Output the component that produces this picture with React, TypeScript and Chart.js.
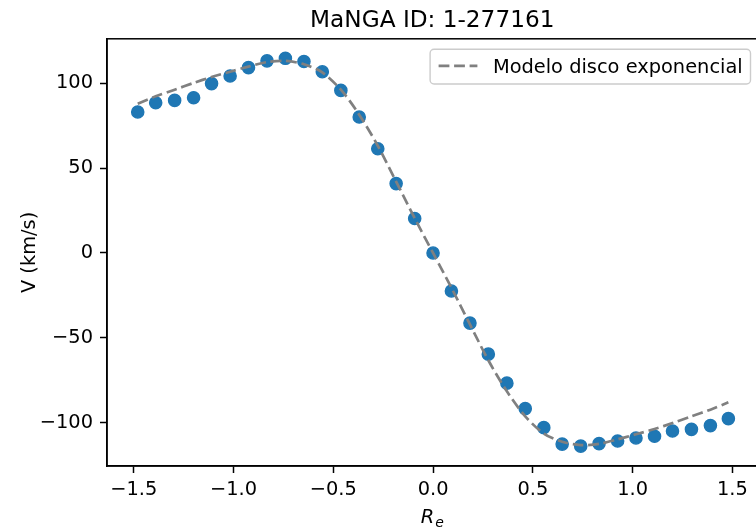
import React, { useEffect, useRef } from "react";
import { Chart, registerables } from "chart.js";

Chart.register(...registerables);

const TITLE = "MaNGA ID: 1-277161";
const MODEL_LABEL = "Modelo disco exponencial";
const Y_LABEL = "V (km/s)";

// radius in units of R_e
const radius: number[] = [
  -1.48, -1.39, -1.295, -1.2, -1.11, -1.017, -0.925, -0.832, -0.74, -0.647, -0.555,
  -0.462, -0.37, -0.277, -0.185, -0.092, 0, 0.092, 0.185, 0.277, 0.37, 0.462, 0.555,
  0.647, 0.74, 0.832, 0.925, 1.017, 1.11, 1.2, 1.295, 1.39, 1.48,
];

// observed velocities (km/s)
const velocity: number[] = [
  83.1, 88.5, 89.9, 91.5, 99.8, 104.3, 109.2, 113.2, 114.7, 112.8, 106.8, 95.8, 80.1,
  61.4, 40.9, 20.3, 0, -22.4, -41.3, -59.6, -76.7, -91.7, -102.9, -112.6, -113.8,
  -112.3, -110.8, -109, -108, -104.9, -103.9, -101.7, -97.6,
];

// exponential disc model (km/s)
const model: number[] = [
  88, 92.3, 96.2, 100.2, 103.7, 106.8, 109.8, 112.5, 113.2, 111.2, 106.4, 96.2, 81.5,
  63.2, 42.1, 20.5, 0, -20.5, -42.1, -63.2, -81.5, -96.2, -106.4, -111.2, -113.2,
  -112.5, -109.8, -106.8, -103.7, -100.2, -96.2, -92.3, -88,
];

const xTicks: number[] = [-1.5, -1.0, -0.5, 0.0, 0.5, 1.0, 1.5];
const yTicks: number[] = [-100, -50, 0, 50, 100];

const FONT = "'DejaVu Sans', 'Liberation Sans', sans-serif";
const FS = 19.4;
const minus = (s: string) => s.replace("-", "\u2212");

const decorPlugin = {
  id: "decor",
  afterDraw(chart: any) {
    const { ctx, chartArea } = chart;
    const { left, right, top, bottom } = chartArea;
    ctx.save();
    // frame (top & right spines)
    ctx.strokeStyle = "#000";
    ctx.lineWidth = 1.5;
    ctx.setLineDash([]);
    ctx.strokeRect(left, top, right - left, bottom - top);

    // title
    ctx.fillStyle = "#000";
    ctx.font = `23.2px ${FONT}`;
    ctx.textAlign = "center";
    ctx.textBaseline = "alphabetic";
    ctx.fillText(TITLE, (left + right) / 2, top - 11.5);

    // x label R_e
    ctx.font = `italic ${FS}px ${FONT}`;
    ctx.textAlign = "left";
    const rW = ctx.measureText("R").width;
    ctx.font = `italic 14px ${FONT}`;
    const eW = ctx.measureText("e").width;
    const cx = (left + right) / 2;
    const sx = cx - (rW + eW + 1) / 2;
    ctx.font = `italic ${FS}px ${FONT}`;
    ctx.fillText("R", sx, 522.5);
    ctx.font = `italic 14px ${FONT}`;
    ctx.fillText("e", sx + rW + 1, 526.5);

    // y label
    ctx.save();
    ctx.translate(35, (top + bottom) / 2);
    ctx.rotate(-Math.PI / 2);
    ctx.font = `${FS}px ${FONT}`;
    ctx.textAlign = "center";
    ctx.textBaseline = "alphabetic";
    ctx.fillText(Y_LABEL, 0, 0);
    ctx.restore();

    // legend
    ctx.font = `${FS}px ${FONT}`;
    const tw = ctx.measureText(MODEL_LABEL).width;
    const boxRight = right - 7;
    const boxTop = top + 10.5;
    const boxH = 34.7;
    const textRight = boxRight - 7.8;
    const textLeft = textRight - tw;
    const hEnd = textLeft - 15.5;
    const hStart = hEnd - 38.8;
    const boxLeft = hStart - 8.5;
    ctx.beginPath();
    (ctx as any).roundRect(boxLeft, boxTop, boxRight - boxLeft, boxH, 3.9);
    ctx.fillStyle = "rgba(255,255,255,0.8)";
    ctx.fill();
    ctx.strokeStyle = "#cccccc";
    ctx.lineWidth = 1.4;
    ctx.stroke();
    const my = boxTop + boxH / 2 - 0.8;
    ctx.beginPath();
    ctx.strokeStyle = "#808080";
    ctx.lineWidth = 2.6;
    ctx.setLineDash([10.8, 4.7]);
    ctx.moveTo(hStart, my);
    ctx.lineTo(hEnd, my);
    ctx.stroke();
    ctx.setLineDash([]);
    ctx.fillStyle = "#000";
    ctx.textAlign = "left";
    ctx.textBaseline = "alphabetic";
    ctx.fillText(MODEL_LABEL, textLeft, boxTop + 23.2);
    ctx.restore();
  },
};

export default function App() {
  const ref = useRef<HTMLCanvasElement | null>(null);
  useEffect(() => {
    if (!ref.current) return;
    const chart = new Chart(ref.current, {
      type: "scatter",
      data: {
        datasets: [
          {
            type: "line",
            label: MODEL_LABEL,
            data: radius.map((r, i) => ({ x: r, y: model[i] })),
            borderColor: "#808080",
            borderWidth: 2.7,
            borderDash: [10.8, 4.7],
            pointRadius: 0,
            tension: 0.3,
            fill: false,
            order: 1,
          } as any,
          {
            type: "scatter",
            label: "Datos",
            data: radius.map((r, i) => ({ x: r, y: velocity[i] })),
            backgroundColor: "#1f77b4",
            borderColor: "#1f77b4",
            borderWidth: 1.4,
            pointRadius: 6.1,
            order: 2,
          },
        ],
      },
      options: {
        responsive: false,
        animation: false,
        layout: { padding: { top: 38.8, right: 2, left: 0, bottom: 0 } },
        plugins: {
          legend: { display: false },
          title: { display: false },
          tooltip: { enabled: false },
        },
        scales: {
          x: {
            type: "linear",
            min: -1.634,
            max: 1.626,
            afterBuildTicks: (axis: any) => {
              axis.ticks = xTicks.map((v) => ({ value: v }));
            },
            afterFit: (scale: any) => {
              scale.height = 63;
              scale.paddingLeft = 0;
              scale.paddingRight = 0;
            },
            grid: {
              drawOnChartArea: false,
              drawTicks: true,
              tickLength: 7,
              tickColor: "#000",
              tickWidth: 1.5,
            },
            border: { display: true, color: "#000", width: 1.5 },
            ticks: {
              color: "#000",
              font: { family: FONT, size: FS },
              padding: 5,
              maxRotation: 0,
              autoSkip: false,
              callback: (v: any) => minus(Number(v).toFixed(1)),
            },
          },
          y: {
            type: "linear",
            min: -125.5,
            max: 126.2,
            afterBuildTicks: (axis: any) => {
              axis.ticks = yTicks.map((v) => ({ value: v }));
            },
            afterFit: (scale: any) => {
              scale.width = 107;
              scale.paddingTop = 0;
              scale.paddingBottom = 0;
            },
            grid: {
              drawOnChartArea: false,
              drawTicks: true,
              tickLength: 7,
              tickColor: "#000",
              tickWidth: 1.5,
            },
            border: { display: true, color: "#000", width: 1.5 },
            ticks: {
              color: "#000",
              font: { family: FONT, size: FS },
              padding: 7,
              autoSkip: false,
              callback: (v: any) => minus(String(Math.round(Number(v)))),
            },
          },
        },
      },
      plugins: [decorPlugin],
    });
    return () => chart.destroy();
  }, []);

  return (
    <div
      style={{
        position: "fixed",
        left: 0,
        top: 0,
        width: 756,
        height: 529,
        overflow: "hidden",
        background: "#fff",
      }}
    >
      <canvas ref={ref} width={765} height={529} style={{ display: "block" }} />
    </div>
  );
}
